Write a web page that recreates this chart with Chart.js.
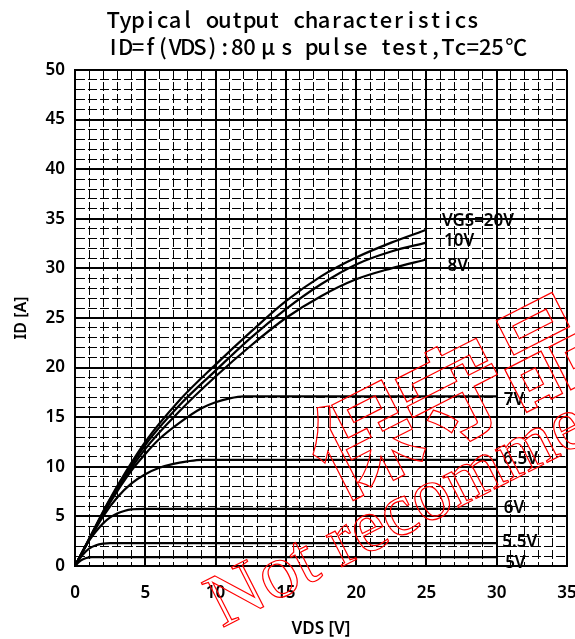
<!DOCTYPE html>
<html><head><meta charset="utf-8">
<script src="https://cdn.jsdelivr.net/npm/chart.js@4.4.1/dist/chart.umd.min.js"></script>
<style>html,body{margin:0;padding:0;background:#fff}canvas{display:block}</style>
</head><body>
<canvas id="c" width="575" height="639"></canvas>
<script>
// ---- data ----
const titleLines = ["Typical output characteristics", "ID=f(VDS):80μs pulse test,Tc=25℃"];
const xTickLabels = [0, 5, 10, 15, 20, 25, 30, 35];
const yTickLabels = [0, 5, 10, 15, 20, 25, 30, 35, 40, 45, 50];
const xAxisTitle = "VDS [V]";
const yAxisTitle = "ID [A]";
const seriesNames = ["VGS=20V", "10V", "8V", "7V", "6.5V", "6V", "5.5V", "5V"];

const vdsHigh = [0, 1, 2.5, 5, 7.5, 10, 12.5, 15, 17.5, 20, 22.5, 25];
const id20V = [0, 2.75, 6.8, 12.5, 16.8, 20.3, 23.6, 26.7, 29.2, 31.1, 32.6, 33.9];
const id10V = [0, 2.7, 6.7, 12.2, 16.3, 19.7, 23.0, 25.9, 28.4, 30.4, 31.7, 32.6];
const id8V  = [0, 2.65, 6.55, 11.8, 15.7, 19.1, 22.2, 25.0, 27.2, 28.9, 30.0, 30.9];

const vds7V = [0, 1, 2.5, 4, 5, 6, 7.5, 9, 10, 11, 12, 30];
const id7V  = [0, 2.65, 6.4, 9.6, 11.3, 12.8, 14.5, 15.9, 16.5, 16.9, 17.1, 17.1];

const vds65V = [0, 1, 2, 3, 4, 5, 6, 7, 8, 9, 30];
const id65V  = [0, 2.6, 5.0, 6.9, 8.3, 9.25, 9.9, 10.3, 10.55, 10.7, 10.7];

const vds6V = [0, 0.5, 1, 1.5, 2, 2.5, 3, 3.5, 4, 5, 30];
const id6V  = [0, 1.35, 2.55, 3.5, 4.3, 4.9, 5.3, 5.55, 5.7, 5.75, 5.75];

const vds55V = [0, 0.5, 1, 1.5, 2, 2.5, 30];
const id55V  = [0, 1.05, 1.75, 2.1, 2.25, 2.3, 2.3];

const vds5V = [0, 0.4, 0.8, 1.2, 1.6, 30];
const id5V  = [0, 0.55, 0.8, 0.9, 0.9, 0.9];

const watermarkEn = "Not recommended";
const watermarkJa = "保守品";

// ---- build ----
const pts = (xs, ys) => xs.map((x, i) => ({x, y: ys[i]}));
const seriesData = [
  pts(vdsHigh, id20V), pts(vdsHigh, id10V), pts(vdsHigh, id8V),
  pts(vds7V, id7V), pts(vds65V, id65V), pts(vds6V, id6V),
  pts(vds55V, id55V), pts(vds5V, id5V)
];
// label anchors in data units (left edge, vertical centre)
const labelAnchors = [[26.1, 34.9], [26.25, 32.8], [26.5, 30.3], [30.5, 16.8], [30.45, 10.9], [30.5, 5.9], [30.4, 2.5], [30.6, 0.4]];

const curveLabels = {
  id: 'curveLabels',
  afterDatasetsDraw(chart) {
    const {ctx, scales: {x, y}} = chart;
    ctx.save();
    ctx.fillStyle = '#000';
    ctx.font = '600 17px "Noto Sans"';
    ctx.textBaseline = 'middle';
    ctx.textAlign = 'left';
    seriesNames.forEach((n, i) => {
      const [ax, ay] = labelAnchors[i];
      ctx.fillText(n, x.getPixelForValue(ax), y.getPixelForValue(ay) + 1);
    });
    ctx.restore();
  }
};

const titlePlugin = {
  id: 'titleCells',
  afterDraw(chart) {
    const ctx = chart.ctx;
    ctx.save();
    ctx.fillStyle = '#000';
    ctx.font = '500 22px "Noto Sans CJK JP"';
    ctx.textBaseline = 'alphabetic';
    ctx.textAlign = 'center';
    const cell = 12.4, x0 = 107, baselines = [28, 55];
    titleLines.forEach((line, li) => {
      let cx = x0;
      for (const ch of line) {
        const wide = (ch === 'μ' || ch === '℃') ? 2 : 1;
        ctx.fillText(ch, cx + wide * cell / 2, baselines[li]);
        cx += wide * cell;
      }
    });
    ctx.restore();
  }
};

const watermark = {
  id: 'watermark',
  afterDraw(chart) {
    const ctx = chart.ctx;
    ctx.save();
    ctx.strokeStyle = '#ff0000';
    ctx.lineWidth = 1.2;
    ctx.save();
    ctx.translate(363, 440);
    ctx.rotate(-27 * Math.PI / 180);
    ctx.font = 'bold 106px "Noto Sans CJK JP"';
    ctx.textAlign = 'center';
    ctx.textBaseline = 'middle';
    [...watermarkJa].forEach((ch, i) => ctx.strokeText(ch, i * 102, 0));
    ctx.restore();
    ctx.save();
    ctx.translate(222, 628);
    ctx.rotate(-27 * Math.PI / 180);
    ctx.font = '76px "Liberation Serif"';
    ctx.textAlign = 'left';
    ctx.textBaseline = 'alphabetic';
    ctx.strokeText(watermarkEn, 0, 0);
    ctx.restore();
    ctx.restore();
  }
};

const isMajor = v => v % 5 === 0;
const gridOpts = {
  color: '#000',
  lineWidth: ctx => (ctx.tick && isMajor(ctx.tick.value)) ? 2 : 1,
  drawTicks: false
};
const borderOpts = {
  display: true, color: '#000', width: 2,
  dash: ctx => (ctx.tick && isMajor(ctx.tick.value)) ? [] : [9, 3]
};
const tickFont = {family: 'Noto Sans', size: 17, weight: '600'};

new Chart(document.getElementById('c'), {
  type: 'line',
  data: {
    datasets: seriesData.map((d, i) => ({
      label: seriesNames[i],
      data: d,
      borderColor: '#000',
      borderWidth: 2.2,
      pointRadius: 0,
      fill: false,
      cubicInterpolationMode: 'monotone'
    }))
  },
  options: {
    responsive: false,
    animation: false,
    devicePixelRatio: 1,
    layout: {padding: {left: 0, top: 70, right: 8, bottom: 0}},
    plugins: {legend: {display: false}, tooltip: {enabled: false}, title: {display: false}},
    scales: {
      x: {
        type: 'linear', min: 0, max: 35,
        grid: gridOpts, border: borderOpts,
        ticks: {
          stepSize: 1, maxTicksLimit: 100, autoSkip: false, maxRotation: 0, padding: 17,
          color: '#000', font: tickFont,
          callback: v => xTickLabels.includes(v) ? String(v) : ''
        },
        title: {display: true, text: xAxisTitle, color: '#000', padding: {top: 1, bottom: 0},
          font: {family: 'Noto Sans', size: 17, weight: '600'}},
        afterFit: s => { s.height = 73; s.paddingLeft = 0; s.paddingRight = 0; }
      },
      y: {
        type: 'linear', min: 0, max: 50,
        grid: gridOpts, border: borderOpts,
        ticks: {
          stepSize: 1, maxTicksLimit: 100, autoSkip: false, padding: 10,
          color: '#000', font: tickFont,
          callback: v => yTickLabels.includes(v) ? String(v) : ''
        },
        title: {display: true, text: yAxisTitle, color: '#000', padding: {top: 12, bottom: 0},
          font: {family: 'Noto Sans', size: 16, weight: '600'}},
        afterFit: s => { s.width = 75; s.paddingTop = 0; s.paddingBottom = 0; }
      }
    }
  },
  plugins: [curveLabels, titlePlugin, watermark]
});
</script>
</body></html>
